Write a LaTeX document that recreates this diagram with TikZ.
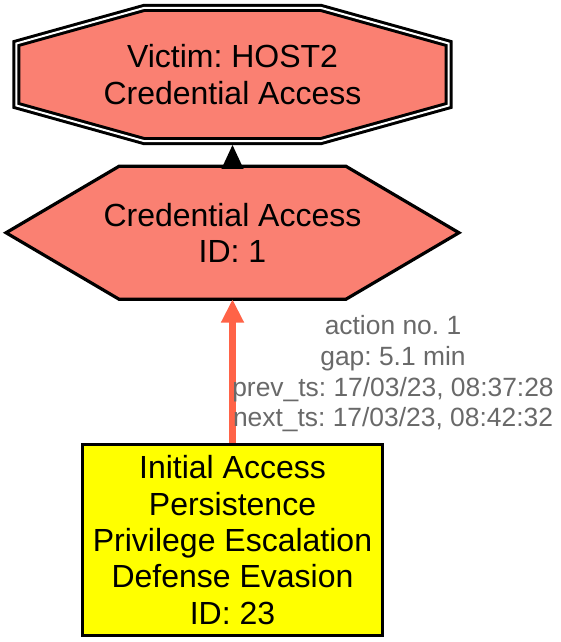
\documentclass[tikz,border=0pt]{standalone}
\usepackage{fontspec}
\setmainfont{Liberation Sans}
\usepackage{tikz}
\usetikzlibrary{arrows.meta, backgrounds}
\definecolor{mysalmon}{RGB}{250,128,114}
\definecolor{mytomato}{RGB}{255,99,71}
\definecolor{mygray}{RGB}{105,105,105}
\definecolor{myyellow}{RGB}{255,255,0}
\frenchspacing

\begin{document}
\begin{tikzpicture}[x=1pt, y=-1pt,
  nodetext/.style={align=center, inner sep=0pt, font=\fontsize{32}{36.3}\selectfont},
  edgetext/.style={align=center, inner sep=0pt, text=mygray, font=\fontsize{26.4}{30.7}\selectfont}]
  \useasboundingbox (0,0) rectangle (561,642);

  % nodes
  \node[nodetext, minimum width=432pt, minimum height=133pt] (victim) at (232.5,74.5) {Victim: HOST2\\Credential Access};
  \node[nodetext, minimum width=452.5pt, minimum height=132.5pt] (cred) at (232.5,232.75) {Credential Access\\ID: 1};
  \node[nodetext, draw, line width=3.2pt, fill=myyellow, minimum width=299.5pt, minimum height=191pt] (init) at (232.5,540) {Initial Access\\Persistence\\Privilege Escalation\\Defense Evasion\\ID: 23};

  % shapes behind the texts
  \begin{scope}[on background layer]
    \draw[line width=3pt, double=white, double distance=2pt, fill=mysalmon]
      ([yshift=31pt]victim.west) -- ([xshift=-88pt]victim.north) -- ([xshift=88pt]victim.north) -- ([yshift=31pt]victim.east)
      -- ([yshift=-31pt]victim.east) -- ([xshift=88pt]victim.south) -- ([xshift=-88pt]victim.south) -- ([yshift=-31pt]victim.west) -- cycle;
    \draw[line width=3.2pt, fill=mysalmon]
      (cred.west) -- ([xshift=-113.5pt]cred.north) -- ([xshift=113.5pt]cred.north)
      -- (cred.east) -- ([xshift=113.5pt]cred.south) -- ([xshift=-113.5pt]cred.south) -- cycle;
  \end{scope}

  % edges
  \draw[-{Triangle[length=24pt, width=21.6pt]}, line width=2.2pt] (cred.north) -- ([yshift=-3.75pt]victim.south);
  \draw[-{Triangle[length=23.5pt, width=21.6pt]}, mytomato, line width=6.5pt] (init.north) -- (cred.south);

  % edge label
  \node[edgetext] (act1) at (393,374) {action no. 1\\gap: 5.1 min\\prev\_ts: 17/03/23, 08:37:28\\next\_ts: 17/03/23, 08:42:32};
\end{tikzpicture}
\end{document}
